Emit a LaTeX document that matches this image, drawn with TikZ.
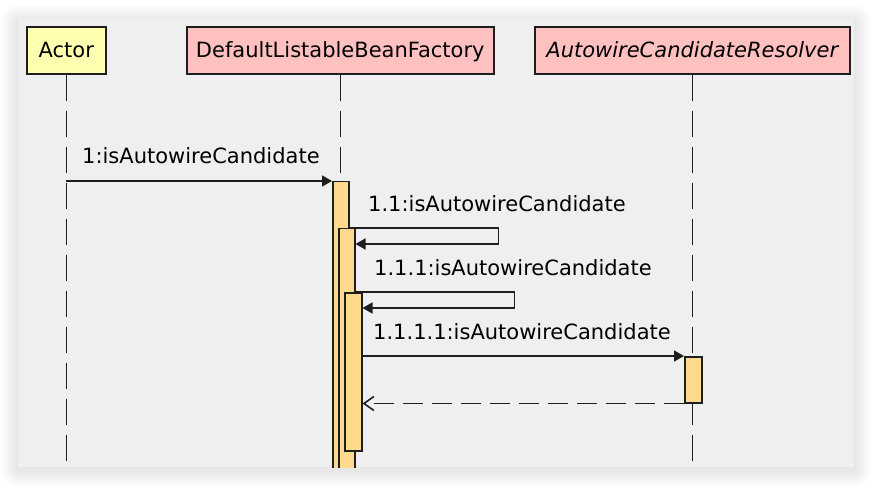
\documentclass[tikz,border=0pt]{standalone}
\usepackage{fontspec}
\setmainfont{DejaVu Sans}
\usepackage{tikz}
\usetikzlibrary{arrows.meta, positioning, calc}
\definecolor{panelgray}{RGB}{239, 239, 239}
\definecolor{actoryellow}{RGB}{255, 255, 176}
\definecolor{partpink}{RGB}{255, 192, 192}
\definecolor{barorange}{RGB}{255, 217, 140}
\definecolor{lineblack}{RGB}{30, 30, 30}

\begin{document}
\begin{tikzpicture}[x=1pt, y=-1pt, font=\fontsize{21}{25}\selectfont,
  participant/.style={draw=lineblack, line width=1.6pt, anchor=north west, minimum height=47, inner sep=0pt, text height=15.4pt, text depth=0pt},
  lifeline/.style={draw=lineblack, line width=1.5pt, dash pattern=on 26pt off 10pt},
  activation/.style={draw=lineblack, fill=barorange, line width=1.5pt, anchor=north west, inner sep=0pt},
  msg/.style={draw=lineblack, line width=1.6pt, -{Triangle[length=10pt, width=11pt]}},
  retmsg/.style={draw=lineblack, line width=1.6pt, dash pattern=on 20pt off 9pt, -{Straight Barb[length=10pt, width=14pt]}},
  msglabel/.style={anchor=base west, inner sep=0pt}]
  \useasboundingbox (0,0) rectangle (872,486);

  % Panel with a soft shadow
  \foreach \s in {16,14,...,2}
    \fill[black, opacity=0.012, rounded corners=\s] (18-\s, 18-\s+3) rectangle (854+\s, 467+\s+3);
  \fill[panelgray] (18,18) rectangle (854,467);

  % Participants
  \node[participant, fill=actoryellow, minimum width=79] (actor) at (26,26) {Actor};
  \node[participant, fill=partpink, minimum width=307] (factory) at (186,26) {DefaultListableBeanFactory};
  \node[participant, fill=partpink, minimum width=315, font=\fontsize{21}{25}\selectfont\itshape] (resolver) at (534,26) {AutowireCandidateResolver};

  \begin{scope}
    \clip (18,18) rectangle (854,467);
    % Lifelines
    \draw[lifeline] (actor.south) -- (actor.south |- 0,467);
    \draw[lifeline] (factory.south) -- (factory.south |- 0,467);
    \draw[lifeline] (resolver.south) -- (resolver.south |- 0,467);

    % Activations
    \node[activation, minimum width=16, minimum height=300] (act1) at (332,181) {};
    \node[activation, minimum width=16, minimum height=250] (act2) at (338,228) {};
    \node[activation, minimum width=17, minimum height=158] (act3) at (344,292) {};
    \node[activation, minimum width=17, minimum height=46] (act4) at (684,356) {};
  \end{scope}

  % 1
  \draw[msg] (actor.south |- act1.north west) -- (act1.north west);
  \node[msglabel] (lbl1) at (82,164) {1:isAutowireCandidate};

  % 1.1
  \draw[msg] (act1.north east |- act2.north) -- ++(149,0) |- ($(act2.north east)+(0,16)$);
  \node[msglabel] (lbl11) at (368,212) {1.1:isAutowireCandidate};

  % 1.1.1
  \draw[msg] (act2.north east |- act3.north) -- ++(159,0) |- ($(act3.north east)+(0,16)$);
  \node[msglabel] (lbl111) at (374,276) {1.1.1:isAutowireCandidate};

  % 1.1.1.1
  \draw[msg] (act3.north east |- act4.north west) -- (act4.north west);
  \node[msglabel] (lbl1111) at (373,339) {1.1.1.1:isAutowireCandidate};

  % return
  \draw[retmsg] (act4.south west) -- (act3.east |- act4.south west);
\end{tikzpicture}
\end{document}
